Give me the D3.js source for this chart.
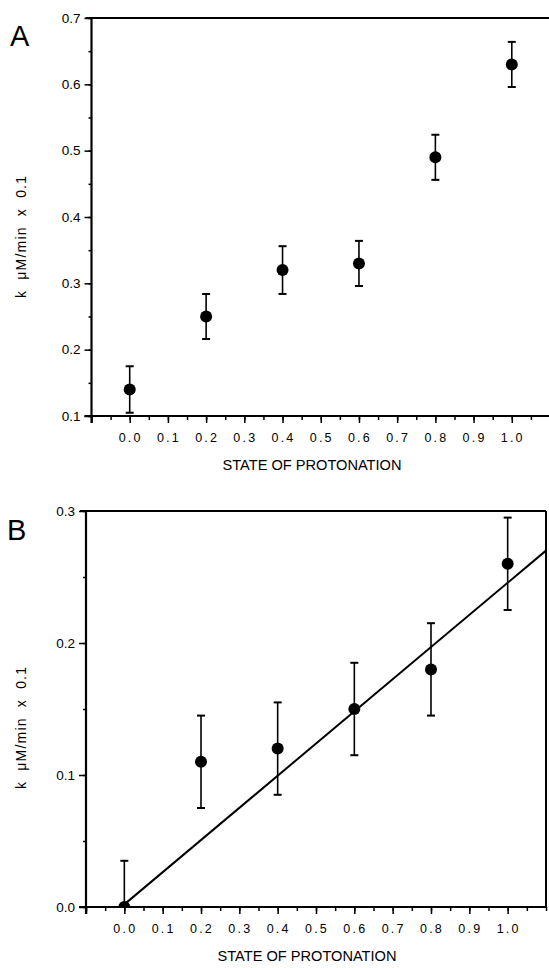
<!DOCTYPE html>
<html>
<head>
<meta charset="utf-8">
<title>Rate vs state of protonation</title>
<script src="https://d3js.org/d3.v7.min.js"></script>
<style>
  body { margin: 0; background: #fff; }
  svg text { font-family: "Liberation Sans", Arial, sans-serif; fill: #000; }
  .axis path, .axis line { stroke: #000; }
  .axis text { font-size: 12px; }
</style>
</head>
<body>
<div id="chart"></div>
<script>
"use strict"

// data
var protonation = [0.0, 0.2, 0.4, 0.6, 0.8, 1.0];
var rateA = [0.14, 0.25, 0.32, 0.33, 0.49, 0.63];
var errA  = [0.035, 0.034, 0.036, 0.034, 0.034, 0.034];
var rateB = [0.0, 0.11, 0.12, 0.15, 0.18, 0.26];
var errB  = [0.035, 0.035, 0.035, 0.035, 0.035, 0.035];
var fitX = [0.0, 1.1];
var fitY = [0.002, 0.270];

var xTicks = [-0.1, 0.0, 0.1, 0.2, 0.3, 0.4, 0.5, 0.6, 0.7, 0.8, 0.9, 1.0];
var xLabels = [0.0, 0.1, 0.2, 0.3, 0.4, 0.5, 0.6, 0.7, 0.8, 0.9, 1.0];
var yTicksA = [0.1, 0.2, 0.3, 0.4, 0.5, 0.6, 0.7];
var yTicksB = [0.0, 0.1, 0.2, 0.3];
var xTitle = "STATE OF PROTONATION";
var yTitle = "k  \u03BCM/min  x  0.1";

var svg = d3.select("#chart").append("svg")
  .attr("width", 549).attr("height", 968);

function panel(opt) {
  var x = d3.scaleLinear().domain([-0.1, 1.1]).range([opt.left, opt.right]);
  var y = d3.scaleLinear().domain(opt.yDomain).range([opt.bottom, opt.top]);
  var g = svg.append("g");

  // minor + major ticks on x
  var minorX = d3.range(-0.1, 1.11, 0.05).map(v => +v.toFixed(2));
  g.append("g").attr("class", "axis")
    .attr("transform", "translate(0," + opt.bottom + ")")
    .call(d3.axisBottom(x).tickValues(minorX).tickSize(4).tickFormat(""))
    .call(a => a.select(".domain").remove())
    .selectAll("line").attr("stroke-width", 1.5);
  g.append("g").attr("class", "axis")
    .attr("transform", "translate(0," + opt.bottom + ")")
    .call(d3.axisBottom(x).tickValues(xTicks).tickSize(7).tickFormat(""))
    .call(a => a.select(".domain").remove())
    .selectAll("line").attr("stroke-width", 1.5);
  g.append("line")
    .attr("x1", opt.left - 7).attr("x2", x(1.1))
    .attr("y1", opt.bottom).attr("y2", opt.bottom)
    .attr("stroke", "#000").attr("stroke-width", 2.2);

  g.selectAll(".xl").data(xLabels).enter().append("text")
    .attr("x", d => x(d) + 1)
    .attr("y", opt.bottom + 26)
    .attr("text-anchor", "middle")
    .style("font-size", "12.5px")
    .style("letter-spacing", "2.2px")
    .text(d => d.toFixed(1));

  // y axis with minor ticks
  var minorY = d3.range(opt.yDomain[0], opt.yDomain[1] + 0.001, 0.05).map(v => +v.toFixed(2));
  g.append("g").attr("class", "axis")
    .attr("transform", "translate(" + opt.left + ",0)")
    .call(d3.axisLeft(y).tickValues(minorY).tickSize(3).tickFormat(""))
    .call(a => a.select(".domain").remove())
    .selectAll("line").attr("stroke-width", 1.5);
  g.append("g").attr("class", "axis")
    .attr("transform", "translate(" + opt.left + ",0)")
    .call(d3.axisLeft(y).tickValues(opt.yTicks).tickSize(7).tickPadding(4).tickFormat(d3.format(".1f")))
    .call(a => a.select(".domain").remove())
    .call(a => a.selectAll("text").style("font-size", "13.5px"))
    .selectAll("line").attr("stroke-width", 1.5);
  g.append("line")
    .attr("x1", opt.left).attr("x2", opt.left)
    .attr("y1", opt.top).attr("y2", opt.bottom + 7)
    .attr("stroke", "#000").attr("stroke-width", 2.2);

  // top frame line, right frame line if boxed
  g.append("line")
    .attr("x1", opt.left - 6).attr("x2", x(1.1))
    .attr("y1", opt.top).attr("y2", opt.top)
    .attr("stroke", "#000").attr("stroke-width", 2.2);
  if (opt.box) {
    g.append("line")
      .attr("x1", x(1.1)).attr("x2", x(1.1))
      .attr("y1", opt.top).attr("y2", opt.bottom)
      .attr("stroke", "#000").attr("stroke-width", 2);
  }

  // clip area for marks
  var clipId = "clip" + opt.name;
  svg.append("clipPath").attr("id", clipId)
    .append("rect").attr("x", opt.left).attr("y", opt.top - 20)
    .attr("width", x(1.1) - opt.left).attr("height", opt.bottom - opt.top + 20);
  var m = g.append("g").attr("clip-path", "url(#" + clipId + ")");

  if (opt.fit) {
    m.append("path")
      .datum(d3.zip(opt.fit[0], opt.fit[1]))
      .attr("d", d3.line().x(d => x(d[0])).y(d => y(d[1])))
      .attr("fill", "none").attr("stroke", "#000").attr("stroke-width", 2);
  }

  var pts = d3.zip(protonation, opt.vals, opt.errs);
  var bars = m.selectAll(".eb").data(pts).enter().append("g");
  bars.append("line")
    .attr("x1", d => x(d[0])).attr("x2", d => x(d[0]))
    .attr("y1", d => y(d[1] - d[2])).attr("y2", d => y(d[1] + d[2]))
    .attr("stroke", "#000").attr("stroke-width", 1.6);
  [-1, 1].forEach(function (s) {
    bars.append("line")
      .attr("x1", d => x(d[0]) - 4).attr("x2", d => x(d[0]) + 4)
      .attr("y1", d => y(d[1] + s * d[2])).attr("y2", d => y(d[1] + s * d[2]))
      .attr("stroke", "#000").attr("stroke-width", 2);
  });
  bars.append("circle")
    .attr("cx", d => x(d[0])).attr("cy", d => y(d[1]))
    .attr("r", 6).attr("fill", "#000");

  // titles
  svg.append("text")
    .attr("x", opt.xTitleX).attr("y", opt.bottom + 54)
    .attr("text-anchor", "middle")
    .attr("textLength", 179).attr("lengthAdjust", "spacingAndGlyphs")
    .style("font-size", "14px")
    .text(xTitle);
  svg.append("text")
    .attr("transform", "translate(26," + opt.yTitleY + ") rotate(-90)")
    .attr("text-anchor", "middle")
    .attr("xml:space", "preserve")
    .attr("textLength", 122).attr("lengthAdjust", "spacing")
    .style("font-size", "14px")
    .text(yTitle);
  svg.append("text")
    .attr("x", opt.letterX).attr("y", opt.letterY)
    .style("font-size", "29px")
    .text(opt.name);
}

panel({
  name: "A", left: 91.5, right: 550, top: 18, bottom: 416,
  yDomain: [0.1, 0.7], yTicks: yTicksA, vals: rateA, errs: errA,
  box: false, xTitleX: 312, yTitleY: 237, letterX: 10, letterY: 46
});

panel({
  name: "B", left: 86, right: 546, top: 511, bottom: 907,
  yDomain: [0.0, 0.3], yTicks: yTicksB, vals: rateB, errs: errB,
  fit: [fitX, fitY],
  box: true, xTitleX: 307, yTitleY: 728, letterX: 7, letterY: 540
});
</script>
</body>
</html>
